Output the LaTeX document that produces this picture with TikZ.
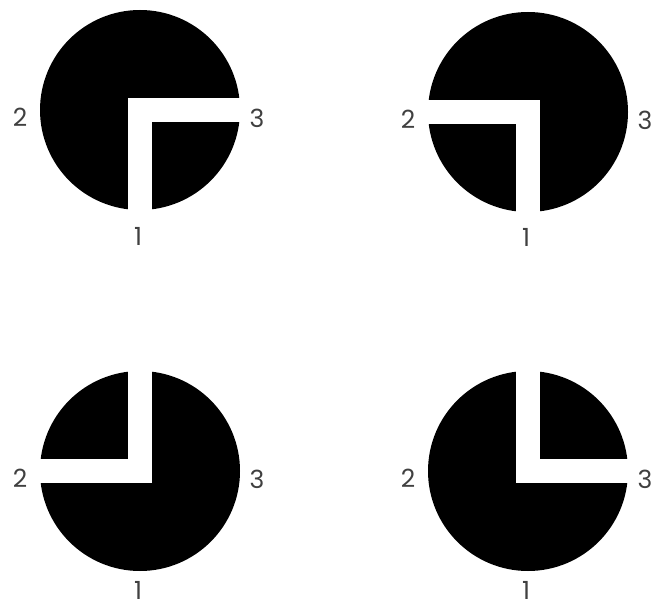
\documentclass[tikz,border=0pt]{standalone}
\usepackage{fontspec}
\setmainfont{Poppins}
\usetikzlibrary{positioning}

\begin{document}
\begin{tikzpicture}[x=1pt,y=-1pt,
  disc/.style={fill=black},
  gap/.style={fill=white},
  lbl/.style={font=\fontsize{25}{25}\selectfont,text=black!75,inner sep=0pt}]
\useasboundingbox (0,0) rectangle (660,601);
% four discs, each cut by an L-shaped gap
\foreach \cx/\cy/\sx/\sy/\dy [count=\i] in {140/110/1/1/126, 528/112/-1/1/125, 140/471/-1/-1/119, 528/471/1/-1/119}{
  \begin{scope}[shift={(\cx,\cy)}]
    \fill[disc] (0,0) circle (100);
    \fill[gap] (-12,-12*\sy) rectangle (12,102*\sy);
    \fill[gap] (-12*\sx,-12) rectangle (102*\sx,12);
    \node[lbl] (two\i) at (-120,7) {2};
    \node[lbl] (three\i) at (117,8) {3};
    \node[lbl] (one\i) at (-2,\dy) {1};
  \end{scope}
}
\end{tikzpicture}
\end{document}
